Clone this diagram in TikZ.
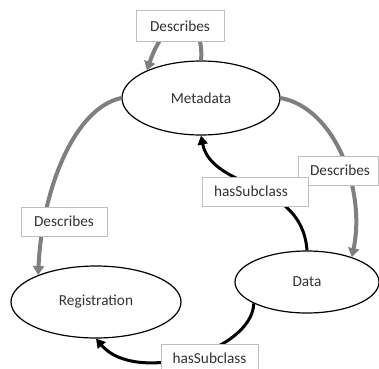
\documentclass[tikz,border=0pt]{standalone}
\usepackage{fontspec}
\setmainfont{Carlito}
\usetikzlibrary{shapes.geometric,arrows.meta}
\definecolor{txt}{HTML}{333333}
\definecolor{boxline}{HTML}{BFBFBF}
\definecolor{grayarrow}{HTML}{7F7F7F}
\begin{document}
\begin{tikzpicture}[x=1bp,y=-1bp,
  every node/.style={font=\fontsize{15.3bp}{18bp}\selectfont, text=txt, inner sep=0pt},
  cls/.style={ellipse, draw=black, line width=1.2bp, fill=white},
  lbl/.style={rectangle, draw=boxline, line width=0.9bp, fill=white},
  desc/.style={draw=grayarrow, line width=4bp, -{Triangle[length=9bp,width=11bp]}},
  sub/.style={draw=black, line width=3bp, -{Triangle[length=9bp,width=10bp]}}]
\useasboundingbox (0,0) rectangle (379,369);
\node[cls, minimum width=158bp, minimum height=74bp] (meta) at (201,98) {Metadata};
\node[cls, minimum width=144bp, minimum height=62bp] (data) at (307,282) {Data};
\node[cls, minimum width=170bp, minimum height=72bp] (reg) at (96,302) {Registration};
% connectors
\draw[desc] (meta.north) .. controls (205,15) and (168,8) .. (meta.153);
\draw[desc] (meta.east) .. controls (335,108) and (366,190) .. (data.29);
\draw[desc] (meta.west) .. controls (74,108) and (42,190) .. (reg.155);
\draw[sub] (data.north) .. controls (302,180) and (212,190) .. (meta.south);
\draw[sub] (data.202) .. controls (252,352) and (135,385) .. (reg.south);
% labels
\node[lbl, minimum width=88bp, minimum height=31bp] (l1) at (180,26) {Describes};
\node[lbl, minimum width=80bp, minimum height=29bp] (l2) at (338,170.5) {\hspace*{4bp}Describes};
\node[lbl, minimum width=106bp, minimum height=29bp] (l3) at (255,191.5) {hasSubclass\hspace*{8bp}};
\node[lbl, minimum width=86bp, minimum height=29bp] (l4) at (64,221.5) {Describes};
\node[lbl, minimum width=97bp, minimum height=29bp] (l5) at (209.5,358.5) {hasSubclass};
\end{tikzpicture}
\end{document}
